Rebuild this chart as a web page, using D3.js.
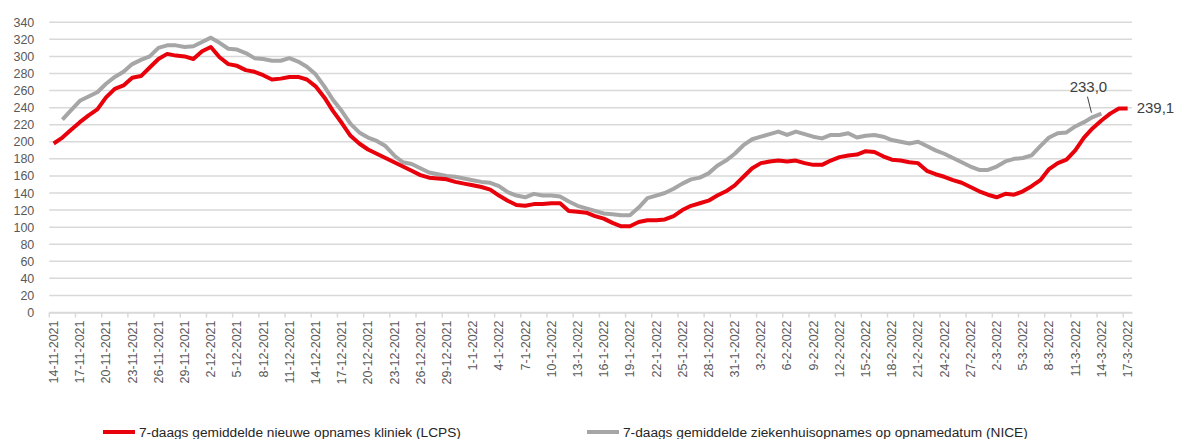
<!DOCTYPE html>
<html>
<head>
<meta charset="utf-8">
<script src="https://cdn.jsdelivr.net/npm/d3@7"></script>
<style>
  body { margin: 0; background: #fff; }
  svg { display: block; font-family: "Liberation Sans", Arial, sans-serif; }
  .tick text { fill: #595959; }
</style>
</head>
<body>
<div id="chart"></div>
<script>
// Categories: one per day, 14-11-2021 .. 17-3-2022
const startDate = new Date(2021, 10, 14);
const endDate = new Date(2022, 2, 18);
const days = d3.timeDay.range(startDate, endDate);

// 7-daags gemiddelde nieuwe opnames kliniek (LCPS), from 14-11-2021
const lcps = [
  198, 205, 214, 223, 231, 238, 252, 262, 266, 275,
  277, 287, 297, 303, 301, 300, 297, 306, 311, 299,
  291, 289, 284, 282, 278, 273, 274, 276, 276, 273,
  265, 252, 236, 222, 207, 198, 191, 186, 181, 176,
  171, 166, 161, 158, 157, 156, 153, 151, 149, 147,
  144, 137, 131, 126, 125, 127, 127, 128, 128, 119,
  118, 117, 113, 110, 105, 101, 101, 106, 108, 108,
  109, 113, 120, 125, 128, 131, 137, 142, 149, 159,
  169, 175, 177, 178, 177, 178, 175, 173, 173, 178,
  182, 184, 185, 189, 188, 183, 179, 178, 176, 175,
  166, 162, 159, 155, 152, 147, 142, 138, 135, 139,
  138, 142, 148, 155, 168, 175, 179, 190, 205, 216,
  225, 233, 239, 239.1
];

// 7-daags gemiddelde ziekenhuisopnames op opnamedatum (NICE), from 15-11-2021
const nice = [
  226, 237, 248, 253, 258, 268, 276, 282, 291,
  296, 300, 310, 313, 313, 311, 312, 317, 322, 316,
  309, 308, 304, 298, 297, 295, 295, 298, 294, 288,
  279, 265, 249, 236, 221, 211, 205, 201, 195, 184,
  176, 174, 169, 164, 162, 160, 159, 157, 155, 153,
  152, 148, 141, 137, 135, 139, 137, 137, 136, 130,
  125, 122, 119, 116, 115, 114, 114, 123, 134, 137,
  140, 145, 151, 156, 158, 163, 172, 178, 186, 196,
  203, 206, 209, 212, 208, 212, 209, 206, 204, 208,
  208, 210, 205, 207, 208, 206, 202, 200, 198, 200,
  195, 190, 186, 181, 176, 171, 167, 167, 171, 177,
  180, 181, 184, 195, 205, 210, 211, 218, 223, 229,
  233.0
];
const niceOffset = 1;

const yTicks = d3.range(0, 341, 20);
const seriesNames = [
  '7-daags gemiddelde nieuwe opnames kliniek (LCPS)',
  '7-daags gemiddelde ziekenhuisopnames op opnamedatum (NICE)'
];

const width = 1177, height = 439;
const plot = { left: 49.3, right: 1132, top: 22.3, bottom: 312.5 };

const svg = d3.select('#chart').append('svg')
  .attr('width', width)
  .attr('height', height);

// Scales
const x = d3.scaleBand()
  .domain(days)
  .range([plot.left, plot.right])
  .padding(0);
const bw = x.bandwidth();
const cx = d => x(d) + bw / 2;

const y = d3.scaleLinear()
  .domain([0, 340])
  .range([plot.bottom, plot.top]);

// Gridlines
svg.append('g')
  .selectAll('line')
  .data(yTicks)
  .join('line')
  .attr('x1', plot.left)
  .attr('x2', plot.right)
  .attr('y1', d => y(d))
  .attr('y2', d => y(d))
  .attr('stroke', '#d9d9d9')
  .attr('stroke-width', 1.5);

// Y axis labels
const yAxis = svg.append('g')
  .attr('transform', `translate(${plot.left - 15},0)`)
  .call(d3.axisLeft(y).tickValues(yTicks).tickSize(0).tickPadding(0));
yAxis.select('.domain').remove();
yAxis.selectAll('text')
  .attr('font-size', 12.5)
  .attr('font-family', '"Liberation Sans", Arial, sans-serif');

// X axis: tick marks between categories, labels every 3 days
const fmt = d3.timeFormat('%-d-%-m-%Y');
const tickDays = days.filter((d, i) => i % 3 === 0);
const xAxis = svg.append('g')
  .attr('transform', `translate(0,${plot.bottom})`)
  .call(d3.axisBottom(x).tickValues(tickDays).tickFormat(fmt).tickSize(5).tickSizeOuter(0));
xAxis.select('.domain')
  .attr('stroke', '#d9d9d9')
  .attr('stroke-width', 1.5);
xAxis.selectAll('.tick line')
  .attr('stroke', '#d9d9d9')
  .attr('stroke-width', 1.5)
  .attr('x1', -bw / 2)
  .attr('x2', -bw / 2);
xAxis.selectAll('.tick text')
  .attr('font-size', 12.5)
  .attr('font-family', '"Liberation Sans", Arial, sans-serif')
  .attr('text-anchor', 'end')
  .attr('transform', 'rotate(-90)')
  .attr('x', -8)
  .attr('y', 0)
  .attr('dy', '0.35em');

// Lines
const line = d3.line()
  .x(d => cx(d.date))
  .y(d => y(d.value));

const lcpsData = lcps.map((v, i) => ({ date: days[i], value: v }));
const niceData = nice.map((v, i) => ({ date: days[i + niceOffset], value: v }));

svg.append('path')
  .datum(niceData)
  .attr('fill', 'none')
  .attr('stroke', '#a6a6a6')
  .attr('stroke-width', 4)
  .attr('stroke-linejoin', 'round')
  .attr('d', line);

svg.append('path')
  .datum(lcpsData)
  .attr('fill', 'none')
  .attr('stroke', '#e8000b')
  .attr('stroke-width', 4)
  .attr('stroke-linejoin', 'round')
  .attr('d', line);

// Data labels
const lastNice = niceData[niceData.length - 1];
const lastLcps = lcpsData[lcpsData.length - 1];

svg.append('line')
  .attr('x1', cx(lastNice.date) - 14)
  .attr('y1', y(lastNice.value) - 17)
  .attr('x2', cx(lastNice.date) - 10)
  .attr('y2', y(lastNice.value) - 1)
  .attr('stroke', '#404040')
  .attr('stroke-width', 1);

svg.append('text')
  .attr('x', cx(lastNice.date) - 13)
  .attr('y', y(lastNice.value) - 22)
  .attr('text-anchor', 'middle')
  .attr('font-size', 15)
  .attr('fill', '#404040')
  .text(d3.format('.1f')(lastNice.value).replace('.', ','));

svg.append('text')
  .attr('x', cx(lastLcps.date) + 9)
  .attr('y', y(lastLcps.value) + 5)
  .attr('font-size', 15)
  .attr('fill', '#404040')
  .text(d3.format('.1f')(lastLcps.value).replace('.', ','));

// Legend
const legend = [
  { name: seriesNames[0], color: '#e8000b', x: 103 },
  { name: seriesNames[1], color: '#a6a6a6', x: 587 }
];
const lg = svg.append('g').selectAll('g')
  .data(legend)
  .join('g')
  .attr('transform', d => `translate(${d.x},432)`);
lg.append('line')
  .attr('x1', 0).attr('x2', 32)
  .attr('stroke', d => d.color)
  .attr('stroke-width', 4);
lg.append('text')
  .attr('x', 36)
  .attr('y', 5)
  .attr('font-size', 13.7)
  .attr('fill', '#262626')
  .text(d => d.name);
</script>
</body>
</html>
